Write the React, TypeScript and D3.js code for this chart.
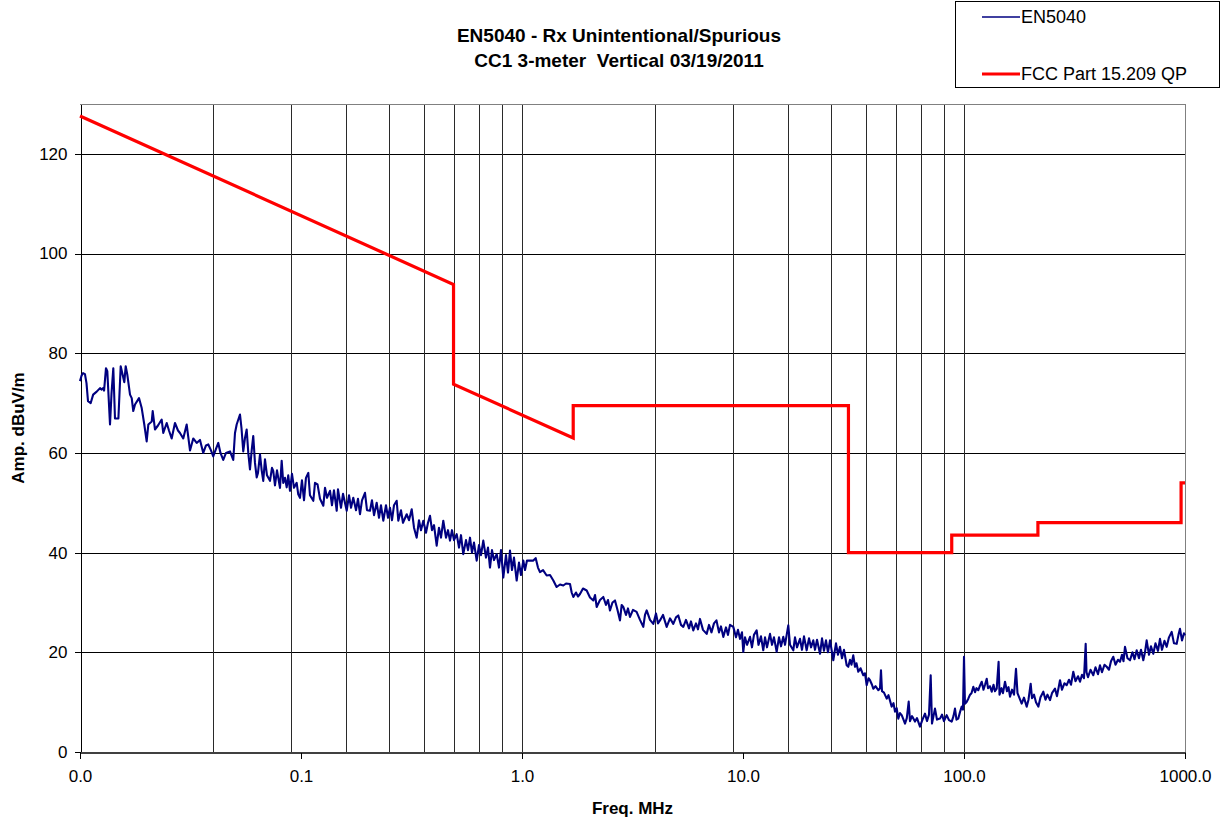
import React, { useRef, useEffect } from 'react';
import * as d3 from 'd3';

const titleLines = ['EN5040 - Rx Unintentional/Spurious', 'CC1 3-meter  Vertical 03/19/2011'];
const seriesNames = ['EN5040', 'FCC Part 15.209 QP'];
const xTicks = [0.01, 0.1, 1, 10, 100, 1000];
const yTicks = [0, 20, 40, 60, 80, 100, 120];
// vertical grid lines as they appear on the original chart
const xGrid = [0.04, 0.09, 0.16, 0.25, 0.36, 0.49, 0.64, 0.81, 1, 4, 9, 16, 25, 36, 49, 64, 81, 100];

// measured sweep, MHz
const en5040Freq = [
  0.01, 0.01016, 0.01032, 0.01053, 0.0107, 0.01087, 0.01118, 0.01147, 0.0119, 0.01232,
  0.01254, 0.01274, 0.01285, 0.01311, 0.01329, 0.01367, 0.01389, 0.01415, 0.0144, 0.01492,
  0.01528, 0.01587, 0.0161, 0.01637, 0.01684, 0.01714, 0.01742, 0.01774, 0.01849, 0.01902,
  0.01954, 0.02003, 0.02038, 0.02111, 0.02133, 0.02184, 0.02254, 0.02342, 0.02381, 0.02468,
  0.02527, 0.02599, 0.0269, 0.02776, 0.02834, 0.02932, 0.03039, 0.03146, 0.03254, 0.03373,
  0.03491, 0.03612, 0.03716, 0.03806, 0.03915, 0.04008, 0.04124, 0.04224, 0.04322, 0.04448,
  0.04577, 0.04772, 0.04937, 0.05027, 0.05116, 0.05296, 0.05379, 0.05479, 0.05579, 0.05678,
  0.05774, 0.05877, 0.05982, 0.06081, 0.06191, 0.06302, 0.06388, 0.06523, 0.06639, 0.06748,
  0.06871, 0.07016, 0.07239, 0.07391, 0.07489, 0.07626, 0.07787, 0.08034, 0.08177, 0.08312,
  0.08463, 0.08614, 0.08756, 0.08916, 0.09104, 0.09296, 0.0956, 0.09717, 0.09895,
  0.101, 0.1032, 0.1053, 0.1079, 0.1098, 0.1137, 0.1157, 0.1188, 0.1219, 0.1262,
  0.1284, 0.1311, 0.1353, 0.1381, 0.141, 0.1451, 0.147, 0.1517, 0.1549, 0.161,
  0.1649, 0.1684, 0.1724, 0.1774, 0.1811, 0.1849, 0.1888, 0.1948, 0.1989, 0.2052,
  0.2095, 0.214, 0.22, 0.2254, 0.2301, 0.2357, 0.2424, 0.2476, 0.2527, 0.2581,
  0.2635, 0.271, 0.2756, 0.2834, 0.2894, 0.3008, 0.3081, 0.3169, 0.3246, 0.3338,
  0.3419, 0.3491, 0.3576, 0.3678, 0.3755, 0.3834, 0.3915, 0.3998, 0.4111, 0.4211,
  0.43, 0.4404, 0.453, 0.4625, 0.4723, 0.4822, 0.4924, 0.5064, 0.5187, 0.5296,
  0.5424, 0.5579, 0.5697, 0.5817, 0.5939, 0.6064, 0.6237, 0.6388, 0.6523, 0.6681,
  0.6871, 0.7016, 0.7164, 0.7315, 0.7469, 0.7682, 0.7868, 0.8034, 0.8229, 0.8463,
  0.8642, 0.8824, 0.9009, 0.9199, 0.9461, 0.9691, 0.9895, 1.014, 1.032, 1.053,
  1.087, 1.125, 1.153, 1.181, 1.206, 1.245, 1.293, 1.339, 1.386, 1.434,
  1.486, 1.538, 1.582, 1.649, 1.678, 1.707, 1.755, 1.792, 1.83, 1.888,
  1.962, 2.031, 2.102, 2.14, 2.177, 2.254, 2.333, 2.399, 2.45, 2.501,
  2.567, 2.635, 2.705, 2.776, 2.825, 2.873, 2.955, 3.017, 3.081, 3.179,
  3.3, 3.419, 3.539, 3.602, 3.666, 3.795, 3.927, 4.039, 4.124, 4.211,
  4.345, 4.515, 4.674, 4.837, 4.975, 5.096, 5.241, 5.368, 5.521, 5.697,
  5.817, 5.958, 6.128, 6.257, 6.388, 6.591, 6.849, 7.016, 7.2, 7.391,
  7.585, 7.787, 7.951, 8.144, 8.376, 8.552, 8.732, 9.038, 9.296, 9.491,
  9.691, 9.895,
  10.03, 10.21, 10.43, 10.76, 10.98, 11.21, 11.53, 11.75, 12.06, 12.35,
  12.58, 12.84, 13.25, 13.53, 13.81, 14.2, 14.55, 14.86, 15.22, 15.49,
  16.03, 16.32, 16.89, 17.19, 17.55, 18.11, 18.49, 18.88, 19.41, 19.89,
  20.31, 20.8, 21.17, 21.62, 22.31, 22.78, 23.25, 23.74, 24.24, 24.76,
  25.62, 26.35, 26.9, 27.47, 28.05, 28.64, 29.45, 29.95, 30.49, 30.96,
  31.55, 32.12, 32.62, 33.24, 34.02, 35.02, 35.65, 36.27, 36.97, 37.55,
  38.34, 38.86, 39.77, 40.94, 41.68, 42.11, 42.55, 43.45, 44.69, 45.53,
  47.08, 47.97, 48.73, 49.59, 50.43, 51.33, 52.25, 53.23, 54.08, 55.1,
  56.2, 56.97, 58.17, 60.01, 61.28, 63.22, 64.88, 66.6, 68.0, 69.44,
  70.67, 71.64, 73.91, 75.47, 77.87, 79.51, 81.18, 83.49, 85.52, 87.97,
  89.62, 91.04, 92.46, 94.22, 95.91, 97.62, 98.95,
  100.0, 101.0, 102.6, 104.6, 106.5, 108.1, 110.2, 112.2, 113.9, 116.1,
  118.1, 120.3, 122.5, 124.5, 126.7, 128.4, 131.1, 133.5, 136.0, 138.1,
  140.6, 143.4, 144.8, 147.8, 150.1, 153.3, 156.5, 159.0, 161.5, 164.9,
  168.4, 171.9, 174.6, 178.3, 182.4, 186.8, 192.2, 195.8, 200.3, 203.1,
  207.4, 211.7, 216.9, 221.9, 228.5, 233.8, 238.6, 245.0, 250.1, 258.1,
  263.5, 271.9, 277.6, 284.9, 291.5, 298.6, 304.9, 312.3, 319.5, 328.0,
  334.9, 341.9, 349.1, 355.3, 358.4, 364.0, 373.6, 384.6, 393.6, 403.9,
  412.4, 421.1, 432.2, 442.2, 453.0, 462.5, 473.7, 484.7, 497.5, 508.0,
  518.7, 526.8, 535.1, 549.2, 563.8, 578.5, 590.8, 604.5, 619.1, 632.2,
  647.5, 659.1, 670.8, 687.1, 701.6, 718.6, 735.3, 754.7, 770.6, 786.8,
  807.5, 826.3, 846.3, 870.4, 891.6, 917.0, 934.3, 949.1, 969.1, 989.5,
  1000,
];

// dBuV/m
const en5040Amp = [
  74.4, 75.5, 76.0, 75.8, 74.0, 70.4, 70.0, 71.7, 72.3, 73.0,
  72.7, 73.0, 72.5, 77.0, 76.4, 65.7, 72.0, 77.0, 66.9, 66.9,
  77.4, 74.2, 77.4, 75.7, 71.7, 71.0, 68.4, 69.7, 71.0, 69.0,
  65.7, 62.3, 65.7, 66.3, 68.4, 64.7, 65.5, 66.7, 64.0, 66.0,
  64.5, 62.9, 66.0, 64.5, 64.0, 62.9, 65.7, 60.5, 62.9, 62.0,
  62.6, 60.0, 61.5, 61.7, 60.5, 59.3, 60.8, 62.0, 60.0, 58.6,
  60.0, 60.3, 58.6, 64.0, 65.7, 67.7, 65.0, 60.3, 63.0, 64.7,
  60.0, 56.7, 60.5, 63.4, 58.0, 55.1, 56.0, 59.7, 56.5, 54.4,
  58.7, 55.5, 54.4, 57.0, 56.4, 53.5, 56.5, 53.0, 58.4, 54.0,
  55.0, 53.1, 55.5, 52.4, 55.8, 53.0, 54.0, 51.7, 51.0,
  54.5, 50.5, 55.0, 56.0, 51.5, 50.4, 54.0, 53.7, 50.8, 49.4,
  53.0, 51.0, 52.4, 49.5, 52.5, 48.4, 52.7, 49.0, 51.8, 48.4,
  51.5, 49.0, 51.0, 48.5, 50.8, 47.7, 50.5, 52.0, 48.5, 48.4,
  50.5, 47.5, 50.0, 47.0, 49.5, 46.4, 49.5, 47.0, 49.0, 46.5,
  49.5, 50.4, 46.4, 48.5, 46.0, 47.7, 46.5, 48.7, 45.0, 43.0,
  46.5, 44.5, 46.4, 44.0, 46.0, 47.4, 44.5, 45.5, 41.4, 45.0,
  43.0, 46.4, 43.0, 44.5, 42.4, 44.5, 42.5, 43.7, 41.0, 43.5,
  39.7, 42.5, 40.5, 43.0, 40.0, 42.0, 38.4, 41.5, 39.5, 42.4,
  39.0, 41.0, 37.0, 40.5, 38.5, 39.7, 37.0, 40.5, 35.0, 39.5,
  36.0, 40.4, 36.5, 39.0, 34.4, 38.0, 35.5, 38.4, 36.5, 38.4,
  38.4, 38.4, 38.9, 37.0, 36.1, 36.5, 35.4, 35.5, 34.4, 33.1,
  33.6, 33.4, 33.8, 33.7, 32.0, 31.1, 32.0, 31.2, 31.7, 32.8,
  32.4, 31.0, 30.4, 31.5, 29.1, 30.5, 31.1, 29.5, 30.5, 28.4,
  30.0, 30.4, 28.5, 26.4, 29.5, 29.1, 27.5, 28.8, 27.1, 28.5,
  28.1, 26.5, 25.1, 27.5, 28.4, 26.5, 25.7, 27.8, 25.8, 26.4,
  27.5, 25.1, 26.8, 25.7, 27.0, 27.4, 25.5, 25.1, 26.5, 24.8,
  26.2, 24.4, 25.8, 24.6, 26.7, 24.5, 23.7, 25.5, 24.0, 25.8,
  26.4, 24.0, 25.2, 23.1, 25.0, 23.5, 25.5, 25.1, 23.0, 24.5,
  22.7, 24.0,
  20.1, 23.0, 21.5, 23.1, 21.0, 23.5, 24.4, 21.5, 23.2, 20.4,
  23.0, 21.0, 23.7, 21.5, 23.0, 20.1, 23.0, 21.2, 23.1, 21.5,
  25.4, 21.5, 20.4, 23.0, 21.0, 22.7, 20.5, 23.2, 20.4, 22.8,
  21.0, 22.4, 20.5, 22.5, 19.7, 22.8, 20.3, 22.4, 20.0, 22.4,
  18.4, 21.8, 19.5, 21.1, 18.8, 20.5, 17.4, 17.1, 18.5, 17.5,
  19.4, 17.1, 17.8, 16.1, 16.8, 15.4, 15.8, 13.4, 14.8, 14.4,
  13.5, 12.7, 13.2, 12.4, 12.8, 16.4, 12.2, 11.9, 10.7, 11.4,
  9.1, 9.8, 8.1, 8.8, 6.7, 7.8, 7.4, 6.5, 5.7, 6.8,
  10.1, 6.2, 7.2, 6.1, 6.8, 5.1, 6.5, 7.7, 6.2, 7.5,
  15.4, 5.7, 8.7, 6.5, 6.7, 7.5, 6.2, 7.4, 6.4, 6.1,
  7.2, 8.7, 6.5, 6.7, 8.0, 9.1, 8.5,
  19.1, 9.7, 10.0, 10.7, 11.5, 11.8, 13.1, 12.0, 12.8, 12.4,
  13.3, 14.1, 12.5, 13.5, 14.7, 12.8, 13.2, 12.1, 13.5, 12.2,
  12.7, 18.1, 11.5, 12.8, 11.8, 14.1, 12.2, 13.0, 11.1, 12.5,
  11.5, 16.7, 11.8, 10.8, 9.7, 10.9, 9.1, 10.5, 13.7, 10.8,
  11.5, 10.0, 9.1, 11.0, 12.1, 10.5, 11.5, 10.4, 11.8, 12.7,
  11.2, 14.4, 12.5, 13.8, 13.4, 14.5, 13.5, 16.1, 14.2, 15.2,
  14.1, 15.5, 14.8, 21.7, 16.0, 15.0, 16.5, 15.4, 17.0, 15.6,
  17.4, 16.0, 17.5, 17.1, 16.5, 18.2, 19.1, 17.5, 18.5, 18.1,
  19.5, 18.2, 21.1, 18.8, 18.4, 20.0, 18.6, 20.4, 18.8, 20.5,
  18.4, 20.0, 22.4, 19.5, 21.2, 19.7, 21.8, 20.3, 22.7, 20.5,
  22.3, 21.1, 23.0, 24.1, 21.8, 21.7, 23.5, 24.7, 22.4, 23.8,
  23.4,
];

// FCC Part 15.209 quasi-peak limit at 3 m
const limitFreq = [0.01, 0.49, 0.49, 1.705, 1.705, 30, 30, 88, 88, 216, 216, 960, 960, 1000];
const limitAmp = [127.6, 93.8, 73.8, 63.0, 69.5, 69.5, 40, 40, 43.5, 43.5, 46, 46, 54, 54];

const FONT = '"Liberation Sans", Arial, Helvetica, sans-serif';

const App = () => {
  const svgRef = useRef<SVGSVGElement>(null);

  useEffect(() => {
    const svg = d3.select(svgRef.current);
    svg.selectAll('*').remove();

    const width = 1225;
    const height = 825;
    const margin = { top: 104, right: 40, bottom: 73, left: 80 };

    const xScale = d3.scaleLog().domain([0.01, 1000]).range([margin.left, width - margin.right]);
    const yScale = d3.scaleLinear().domain([0, 130]).range([height - margin.bottom, margin.top]);

    svg.append('rect').attr('width', width).attr('height', height).attr('fill', '#fff');

    // grid
    const grid = svg.append('g').attr('shape-rendering', 'crispEdges');
    grid
      .selectAll('line.h')
      .data(yTicks.filter((d) => d > 0))
      .join('line')
      .attr('x1', margin.left)
      .attr('x2', width - margin.right)
      .attr('y1', (d) => Math.round(yScale(d)) + 0.5)
      .attr('y2', (d) => Math.round(yScale(d)) + 0.5)
      .attr('stroke', '#000');
    grid
      .selectAll('line.v')
      .data(xGrid)
      .join('line')
      .attr('x1', (d) => Math.round(xScale(d)) + 0.5)
      .attr('x2', (d) => Math.round(xScale(d)) + 0.5)
      .attr('y1', margin.top)
      .attr('y2', height - margin.bottom)
      .attr('stroke', '#2a2a2a');

    // plot frame (top and right)
    svg
      .append('path')
      .attr('d', `M${margin.left},${margin.top + 0.5}H${width - margin.right + 0.5}V${height - margin.bottom}`)
      .attr('fill', 'none')
      .attr('stroke', '#808080')
      .attr('shape-rendering', 'crispEdges');

    // axes
    const yAxis = svg
      .append('g')
      .attr('transform', `translate(${margin.left + 0.5},0)`)
      .call(d3.axisLeft(yScale).tickValues(yTicks).tickSize(6).tickSizeOuter(0).tickPadding(7).tickFormat(d3.format('d')));
    const xAxis = svg
      .append('g')
      .attr('transform', `translate(0,${height - margin.bottom + 0.5})`)
      .call(d3.axisBottom(xScale).tickValues(xTicks).tickSize(6).tickSizeOuter(0).tickPadding(11).tickFormat(d3.format('.1f')));

    [yAxis, xAxis].forEach((ax) => {
      ax.attr('font-family', FONT).attr('font-size', 17).attr('shape-rendering', 'crispEdges');
      ax.selectAll('text').attr('fill', '#000');
      ax.selectAll('line').attr('stroke', '#000');
    });
    yAxis.select('.domain').attr('stroke', '#000');
    xAxis.select('.domain').attr('stroke', '#404040').attr('stroke-width', 1.5);

    // series
    const line = (fx: number[], fy: number[]) =>
      d3
        .line<number>()
        .x((d) => xScale(d))
        .y((_, i) => yScale(fy[i]))(fx);

    svg
      .append('path')
      .attr('d', line(en5040Freq, en5040Amp))
      .attr('fill', 'none')
      .attr('stroke', '#000080')
      .attr('stroke-width', 2.1)
      .attr('stroke-linejoin', 'round');

    svg
      .append('path')
      .attr('d', line(limitFreq, limitAmp))
      .attr('fill', 'none')
      .attr('stroke', '#ff0000')
      .attr('stroke-width', 3.2);

    // titles
    const title = svg
      .append('text')
      .attr('font-family', FONT)
      .attr('font-size', 19)
      .attr('font-weight', 'bold')
      .attr('text-anchor', 'middle')
      .style('white-space', 'pre');
    titleLines.forEach((t, i) => {
      title.append('tspan').attr('x', 619).attr('y', 42 + i * 25).text(t);
    });

    svg
      .append('text')
      .attr('x', (margin.left + width - margin.right) / 2)
      .attr('y', 814)
      .attr('font-family', FONT)
      .attr('font-size', 17)
      .attr('font-weight', 'bold')
      .attr('text-anchor', 'middle')
      .text('Freq. MHz');

    svg
      .append('text')
      .attr('transform', `translate(24,${(margin.top + height - margin.bottom) / 2}) rotate(-90)`)
      .attr('font-family', FONT)
      .attr('font-size', 17)
      .attr('font-weight', 'bold')
      .attr('text-anchor', 'middle')
      .text('Amp. dBuV/m');

    // legend
    const legend = svg.append('g');
    legend
      .append('rect')
      .attr('x', 955.5)
      .attr('y', 1.5)
      .attr('width', 264)
      .attr('height', 86)
      .attr('fill', '#fff')
      .attr('stroke', '#000')
      .attr('shape-rendering', 'crispEdges');
    const legendColors = ['#000080', '#ff0000'];
    const legendWidths = [1.6, 3.2];
    seriesNames.forEach((name, i) => {
      const ly = 17 + i * 57;
      legend
        .append('line')
        .attr('x1', 982)
        .attr('x2', 1020)
        .attr('y1', ly)
        .attr('y2', ly)
        .attr('stroke', legendColors[i])
        .attr('stroke-width', legendWidths[i]);
      legend
        .append('text')
        .attr('x', 1021)
        .attr('y', ly + 6)
        .attr('font-family', FONT)
        .attr('font-size', 18)
        .text(name);
    });
  }, []);

  return (
    <svg
      ref={svgRef}
      width={1225}
      height={825}
      style={{ position: 'absolute', left: 0, top: 0, display: 'block' }}
    />
  );
};

export default App;
